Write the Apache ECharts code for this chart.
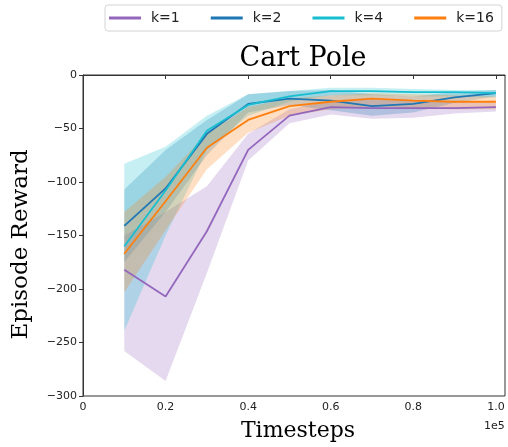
<!DOCTYPE html>
<html lang="en">
<head>
    <meta charset="UTF-8">
    <title>Cart Pole</title>
    <style>
        html, body {
            margin: 0;
            padding: 0;
            background: #fff;
        }

        #chart {
            width: 508px;
            height: 447px;
        }
    </style>
</head>
<body>
<div id="chart"></div>
<script src="https://cdn.jsdelivr.net/npm/echarts@6/dist/echarts.min.js"></script>
<script>

    // timesteps, in units of 1e5
    var steps = [0.1, 0.2, 0.3, 0.4, 0.5, 0.6, 0.7, 0.8, 0.9, 1.0];
    var yTicks = [-300, -250, -200, -150, -100, -50, 0];

    var k1Mean = [-182, -207, -146, -70, -38, -30, -31, -31, -31, -30];
    var k1Upper = [-150, -128, -104, -55, -32, -24, -23, -24, -25, -26];
    var k1Lower = [-258, -286, -185, -80, -45, -37, -41, -40, -36, -34];

    var k2Mean = [-141, -106, -55, -27, -22, -24, -29, -27, -21, -17];
    var k2Upper = [-107, -70, -42, -18, -15, -14, -18, -20, -16, -14];
    var k2Lower = [-175, -128, -75, -35, -28, -33, -38, -35, -26, -20];

    var k4Mean = [-160, -108, -52, -28, -20, -15, -15, -16, -16, -17];
    var k4Upper = [-83, -67, -38, -18, -15, -12, -12, -13, -14, -14];
    var k4Lower = [-239, -150, -70, -38, -25, -19, -19, -20, -20, -21];

    var k16Mean = [-167, -118, -68, -42, -29, -25, -22, -24, -25, -25];
    var k16Upper = [-128, -95, -55, -30, -22, -19, -17, -18, -19, -20];
    var k16Lower = [-203, -145, -88, -54, -38, -32, -30, -31, -32, -32];

    var runs = [
        {name: 'k=1', color: '#9467bd', mean: k1Mean, upper: k1Upper, lower: k1Lower},
        {name: 'k=2', color: '#1f77b4', mean: k2Mean, upper: k2Upper, lower: k2Lower},
        {name: 'k=4', color: '#17becf', mean: k4Mean, upper: k4Upper, lower: k4Lower},
        {name: 'k=16', color: '#ff7f0e', mean: k16Mean, upper: k16Upper, lower: k16Lower}
    ];

    var pairs = function (ys) {
        return steps.map(function (x, i) {
            return [x, ys[i]];
        });
    };

    // shaded band between lower and upper, drawn as one polygon
    var bandSeries = function (run) {
        return {
            type: 'custom',
            name: run.name + ' band',
            silent: true,
            data: steps.map(function (x, i) {
                return [x, run.lower[i], run.upper[i]];
            }),
            encode: {x: 0, y: [1, 2]},
            renderItem: function (params, api) {
                if (params.dataIndex !== 0) return;
                var pts = [];
                var i;
                for (i = 0; i < steps.length; i++) {
                    pts.push(api.coord([steps[i], run.upper[i]]));
                }
                for (i = steps.length - 1; i >= 0; i--) {
                    pts.push(api.coord([steps[i], run.lower[i]]));
                }
                return {
                    type: 'polygon',
                    shape: {points: pts},
                    style: {fill: run.color, opacity: 0.25}
                };
            }
        };
    };

    var series = [];
    runs.forEach(function (run) {
        series.push(bandSeries(run));
        series.push({
            name: run.name,
            type: 'line',
            symbol: 'none',
            color: run.color,
            lineStyle: {width: 1.8, color: run.color},
            data: pairs(run.mean)
        });
    });

    var option = {
        animation: false,
        title: {
            text: 'Cart Pole',
            left: 298,
            top: 40,
            textAlign: 'center',
            textStyle: {
                fontFamily: 'DejaVu Serif',
                fontWeight: 'normal',
                fontSize: 27,
                color: '#000'
            }
        },
        legend: {
            data: runs.map(function (r) { return r.name; }),
            left: 105,
            top: 5,
            padding: [6, 8, 6, 4],
            itemGap: 31,
            itemWidth: 32,
            itemHeight: 3,
            icon: 'rect',
            borderColor: '#d4d4d4',
            borderWidth: 1,
            borderRadius: 3,
            textStyle: {
                fontFamily: 'DejaVu Sans',
                fontSize: 14,
                color: '#222',
                padding: [0, 0, 0, 5]
            }
        },
        grid: {
            left: 83,
            top: 75,
            right: 3,
            bottom: 49,
            show: true,
            borderColor: '#333',
            borderWidth: 1
        },
        xAxis: {
            type: 'value',
            min: 0,
            max: 1.022,
            interval: 0.2,
            name: 'Timesteps',
            nameLocation: 'middle',
            nameGap: 24,
            nameTextStyle: {
                fontFamily: 'DejaVu Serif',
                fontSize: 22,
                color: '#000',
                padding: [0, 0, 0, 8]
            },
            axisLine: {lineStyle: {color: '#333'}},
            axisTick: {length: 4, lineStyle: {color: '#333'}},
            splitLine: {show: false},
            axisLabel: {
                fontFamily: 'DejaVu Sans',
                fontSize: 11,
                color: '#222',
                margin: 6,
                showMaxLabel: false,
                formatter: function (v) {
                    if (v > 1.0001) return '';
                    return v === 0 ? '0' : v.toFixed(1);
                }
            }
        },
        yAxis: {
            type: 'value',
            min: yTicks[0],
            max: yTicks[yTicks.length - 1],
            interval: 50,
            name: 'Episode Reward',
            nameLocation: 'middle',
            nameGap: 50,
            nameTextStyle: {
                fontFamily: 'DejaVu Serif',
                fontSize: 23,
                color: '#000',
                padding: [0, 18, 0, 0]
            },
            axisLine: {show: true, lineStyle: {color: '#333'}},
            axisTick: {show: true, length: 4, lineStyle: {color: '#333'}},
            splitLine: {show: false},
            axisLabel: {
                fontFamily: 'DejaVu Sans',
                fontSize: 11,
                color: '#222',
                margin: 6,
                formatter: function (v) {
                    return String(v).replace('-', '\u2212');
                }
            }
        },
        graphic: [{
            type: 'text',
            left: 484,
            top: 421,
            style: {
                text: '1e5',
                font: '11px "DejaVu Sans"',
                fill: '#222'
            }
        }],
        series: series
    };

    var myChart = echarts.init(document.getElementById('chart'));
    myChart.setOption(option);
</script>
</body>
</html>
